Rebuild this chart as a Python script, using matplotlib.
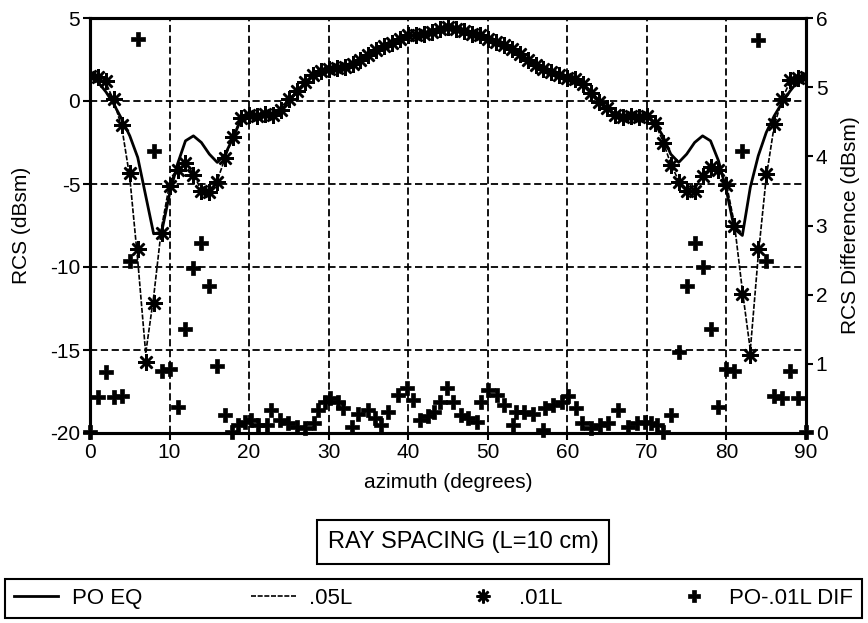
import matplotlib
matplotlib.use("Agg")
import matplotlib.pyplot as plt
from matplotlib.lines import Line2D

plt.rcParams['font.family'] = ['Liberation Sans', 'DejaVu Sans']
plt.rcParams['axes.unicode_minus'] = False

# azimuth samples (degrees)
azimuth = list(range(0, 91))

# physical optics, equivalent currents (dBsm)
po_eq = [1.55, 1.15, 0.55, -0.2, -1.1, -2.1, -3.4, -5.7, -8.0, -7.9,
         -5.6, -3.8, -2.4, -2.1, -2.5, -3.2, -3.7, -3.2, -2.2, -1.1,
         -0.85, -0.85, -0.85, -0.8, -0.6, 0.0, 0.55, 1.1, 1.5, 1.7,
         1.85, 1.95, 2.1, 2.2, 2.4, 2.7, 3.0, 3.2, 3.45, 3.65,
         3.85, 4.0, 4.1, 4.2, 4.3, 4.38, 4.3, 4.2, 4.1, 3.9,
         3.65, 3.5, 3.35, 3.1, 2.75, 2.4, 2.1, 1.9, 1.7, 1.5,
         1.35, 1.25, 1.0, 0.55, 0.0, -0.4, -0.8, -0.9, -0.9, -0.9,
         -0.95, -1.3, -2.1, -3.2, -3.7, -3.2, -2.5, -2.1, -2.4, -3.6,
         -5.4, -7.7, -8.1, -5.2, -3.3, -1.9, -0.9, -0.1, 0.6, 1.2,
         1.55]

# ray spacing 0.05 L (dBsm)
ray_05L = [1.5, 1.4, 1.1, 0.0, -1.6, -4.6, -9.6, -15.2, -11.8, -7.6,
           -5.0, -4.0, -3.7, -4.4, -5.4, -5.45, -4.8, -3.4, -2.1, -1.0,
           -0.85, -0.9, -0.85, -0.8, -0.55, 0.05, 0.6, 1.15, 1.5, 1.75,
           1.9, 2.0, 2.05, 2.2, 2.45, 2.75, 3.0, 3.25, 3.5, 3.7,
           3.9, 4.0, 4.1, 4.15, 4.3, 4.4, 4.3, 4.2, 4.05, 3.9,
           3.7, 3.5, 3.35, 3.15, 2.8, 2.4, 2.1, 1.9, 1.7, 1.5,
           1.35, 1.25, 1.0, 0.5, 0.0, -0.4, -0.85, -0.9, -0.9, -0.9,
           -0.9, -1.3, -2.4, -3.8, -4.8, -5.35, -5.35, -4.5, -3.9, -4.1,
           -5.0, -7.4, -11.4, -15.0, -9.3, -4.6, -1.5, 0.1, 1.2, 1.4,
           1.45]

# ray spacing 0.01 L (dBsm)
ray_01L = [1.5, 1.45, 1.2, 0.1, -1.45, -4.35, -8.9, -15.7, -12.15, -7.95,
           -5.15, -4.15, -3.75, -4.45, -5.45, -5.5, -4.85, -3.45, -2.15, -1.05,
           -0.85, -0.9, -0.8, -0.85, -0.55, 0.1, 0.6, 1.15, 1.55, 1.8,
           1.95, 2.0, 2.05, 2.25, 2.5, 2.75, 3.05, 3.3, 3.5, 3.75,
           3.95, 4.0, 4.05, 4.15, 4.35, 4.45, 4.35, 4.2, 4.05, 3.95,
           3.75, 3.55, 3.4, 3.15, 2.85, 2.45, 2.15, 1.95, 1.75, 1.55,
           1.4, 1.3, 1.0, 0.5, -0.05, -0.45, -0.85, -0.95, -0.9, -0.95,
           -0.9, -1.3, -2.5, -3.85, -4.9, -5.4, -5.4, -4.5, -3.95, -4.15,
           -5.05, -7.5, -11.6, -15.3, -8.9, -4.4, -1.4, 0.15, 1.25, 1.4,
           1.45]

# PO minus 0.01 L difference (dBsm), right-hand scale
dif_az = [0, 1, 2, 3, 4, 5, 6, 8, 9, 10,
          11, 12, 13, 14, 15, 16, 17, 17.8, 18.6, 19.5,
          20.3, 21.1, 22.2, 22.8, 23.9, 24.9, 26.0, 27.0, 28.1, 28.7,
          29.5, 30.2, 31.2, 31.8, 32.9, 33.7, 35.0, 35.8, 36.6, 37.5,
          38.7, 39.8, 40.6, 41.5, 42.5, 43.3, 44.0, 44.9, 45.6, 46.6,
          47.5, 48.6, 49.1, 50.0, 51.1, 52.1, 53.2, 53.6, 54.6, 55.7,
          57.0, 57.2, 58.2, 59.3, 60.1, 61.1, 61.8, 63.0, 64.1, 65.1,
          66.4, 67.6, 68.7, 69.7, 70.5, 71.3, 72.0, 73.0, 74.0, 75.0,
          76.0, 77.0, 78.0, 79.0, 80.0, 81.0, 82.0, 84.0, 85.0, 86.0,
          87.0, 88.0, 89.0, 90.0]
dif_val = [0.02, 0.52, 0.88, 0.52, 0.54, 2.48, 5.70, 4.07, 0.89, 0.93,
           0.38, 1.50, 2.39, 2.75, 2.13, 0.97, 0.26, 0.02, 0.12, 0.16,
           0.19, 0.12, 0.12, 0.33, 0.19, 0.14, 0.09, 0.07, 0.14, 0.33,
           0.45, 0.50, 0.45, 0.36, 0.09, 0.28, 0.33, 0.21, 0.12, 0.31,
           0.55, 0.65, 0.48, 0.19, 0.24, 0.31, 0.45, 0.65, 0.45, 0.26,
           0.21, 0.16, 0.45, 0.62, 0.55, 0.40, 0.12, 0.31, 0.31, 0.28,
           0.04, 0.36, 0.40, 0.45, 0.53, 0.36, 0.14, 0.07, 0.12, 0.14,
           0.33, 0.09, 0.14, 0.16, 0.14, 0.12, 0.02, 0.26, 1.17, 2.13,
           2.74, 2.40, 1.50, 0.38, 0.92, 0.89, 4.07, 5.68, 2.48, 0.53,
           0.51, 0.89, 0.51, 0.02]

x_ticks = [0, 10, 20, 30, 40, 50, 60, 70, 80, 90]
y_ticks = [5, 0, -5, -10, -15, -20]
y2_ticks = [0, 1, 2, 3, 4, 5, 6]

fig = plt.figure(figsize=(8.68, 6.23), dpi=100)
ax = fig.add_axes([90 / 868, 1 - 433 / 623, 716 / 868, 415 / 623])
ax2 = ax.twinx()

ax.set_xlim(0, 90)
ax.set_ylim(-20, 5)
ax2.set_ylim(0, 6)
ax.set_xticks(x_ticks)
ax.set_yticks(y_ticks)
ax2.set_yticks(y2_ticks)

ax.grid(True, color='black', linestyle=(0, (4, 2)), linewidth=1.3)
ax.set_axisbelow(True)

ax.plot(azimuth, po_eq, color='black', linewidth=2.0, zorder=3)
ax.plot(azimuth, ray_05L, color='black', linewidth=1.2,
        linestyle=(0, (3, 1)), zorder=3)
ax.plot(azimuth, ray_01L, linestyle='none', marker=(8, 2, 0),
        markersize=12, markeredgewidth=1.8, color='black', zorder=4)
ax2.plot(dif_az, dif_val, linestyle='none', marker='P', markersize=9.5,
         color='black', markeredgewidth=0.5, clip_on=False, zorder=4)

for a in (ax, ax2):
    for s in a.spines.values():
        s.set_linewidth(2.2)
    a.tick_params(direction='out', length=5, width=1.5, labelsize=15, pad=2)

ax.set_xlabel('azimuth (degrees)', fontsize=15, labelpad=8)
ax.set_ylabel('RCS (dBsm)', fontsize=15, labelpad=14)
ax2.set_ylabel('RCS Difference (dBsm)', fontsize=15, labelpad=10)

fig.text(463 / 868, 1 - 542 / 623, 'RAY SPACING (L=10 cm)', ha='center',
         va='center', fontsize=17,
         bbox=dict(boxstyle='square,pad=0.45', fc='white', ec='black', lw=1.5))

handles = [
    Line2D([], [], color='black', linewidth=2.0),
    Line2D([], [], color='black', linewidth=1.2, linestyle=(0, (3, 1))),
    Line2D([], [], color='black', linestyle='none', marker=(8, 2, 0),
           markersize=10, markeredgewidth=1.8),
    Line2D([], [], color='black', linestyle='none', marker='P',
           markersize=9, markeredgewidth=0.5),
]
labels = ['PO EQ', '.05L', '.01L', 'PO-.01L DIF']
leg = fig.legend(handles, labels, loc='lower left',
                 bbox_to_anchor=(5 / 868, 5 / 623, 857 / 868, 42 / 623),
                 mode='expand', ncol=4, borderaxespad=0, fancybox=False,
                 edgecolor='black', fontsize=16, handlelength=2.0,
                 handletextpad=0.6, framealpha=1)
leg.get_frame().set_linewidth(1.5)

fig.savefig('out.png', dpi=100)
